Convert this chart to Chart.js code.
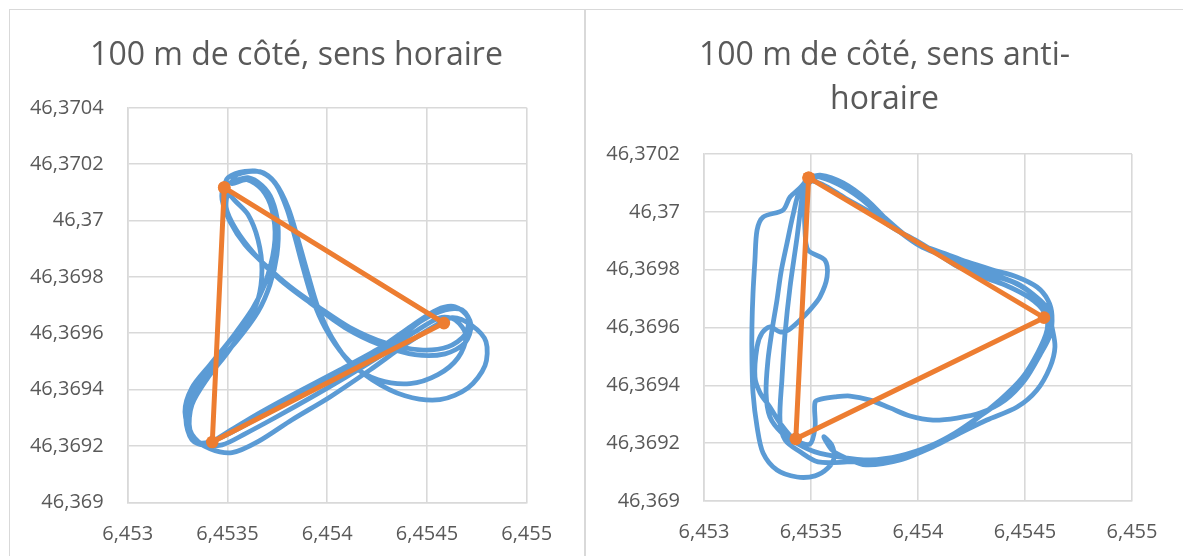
<!DOCTYPE html>
<html>
<head>
<meta charset="utf-8">
<script src="https://cdn.jsdelivr.net/npm/chart.js@4/dist/chart.umd.min.js"></script>
<style>
  body { margin: 0; background: #fff; width: 1183px; height: 556px; overflow: hidden; position: relative; }
  .frame { position: absolute; top: 9px; height: 560px; border: 1px solid #d9d9d9; border-bottom: none; box-sizing: border-box; }
  canvas { position: absolute; top: 9px; }
</style>
</head>
<body>
<div class="frame" style="left:9px; width:576px;"></div>
<div class="frame" style="left:585px; width:700px;"></div>
<canvas id="left" width="575" height="547" style="left:9px"></canvas>
<canvas id="right" width="597" height="547" style="left:586px"></canvas>
<script>
// axis ticks
const xTicks = [6.453, 6.4535, 6.454, 6.4545, 6.455];
const yTicksLeft = [46.369, 46.3692, 46.3694, 46.3696, 46.3698, 46.37, 46.3702, 46.3704];
const yTicksRight = [46.369, 46.3692, 46.3694, 46.3696, 46.3698, 46.37, 46.3702];

// planned triangle (orange)
const triLonLeft = [6.453484, 6.454585, 6.453424, 6.453484];
const triLatLeft = [46.370117, 46.369636, 46.369214, 46.370117];
const triLonRight = [6.453489, 6.453429, 6.454589, 6.453489];
const triLatRight = [46.370118, 46.369215, 46.369634, 46.370118];

// GPS track, clockwise (blue), 4 laps
const trackLonLeft = [
  6.453503, 6.453493, 6.453543, 6.453638, 6.453763, 6.453914, 6.454089, 6.454265, 6.454440, 6.454591,
  6.454691, 6.454721, 6.454676, 6.454591, 6.454465, 6.454290, 6.454089, 6.453864, 6.453638, 6.453473,
  6.453362, 6.453302, 6.453302, 6.453388, 6.453523, 6.453638, 6.453703, 6.453738, 6.453723, 6.453673,
  6.453598, 6.453523,
  6.453548, 6.453663, 6.453738, 6.453804, 6.453854, 6.453904, 6.453954, 6.454024, 6.454124, 6.454255,
  6.454415, 6.454555, 6.454656, 6.454696, 6.454641, 6.454565, 6.454440, 6.454290, 6.454114, 6.453924,
  6.453738, 6.453588, 6.453473, 6.453372, 6.453312, 6.453322, 6.453402, 6.453503, 6.453593, 6.453653,
  6.453673, 6.453653, 6.453603, 6.453533, 6.453488,
  6.453503, 6.453588, 6.453673, 6.453743, 6.453799, 6.453839, 6.453879, 6.453924, 6.453989, 6.454089,
  6.454225, 6.454390, 6.454565, 6.454706, 6.454791, 6.454796, 6.454726, 6.454626, 6.454525, 6.454390,
  6.454215, 6.454014, 6.453824, 6.453653, 6.453523, 6.453413, 6.453327, 6.453287, 6.453322, 6.453413,
  6.453523, 6.453623, 6.453693, 6.453743, 6.453748, 6.453713, 6.453653, 6.453563, 6.453483,
  6.453473, 6.453513, 6.453588, 6.453688, 6.453814, 6.453954, 6.454114, 6.454290, 6.454465, 6.454606,
  6.454691, 6.454706, 6.454641, 6.454550, 6.454425, 6.454265, 6.454064, 6.453854, 6.453653, 6.453503,
  6.453388, 6.453322, 6.453292, 6.453322, 6.453413, 6.453543, 6.453653, 6.453713, 6.453748, 6.453753,
  6.453723, 6.453673, 6.453603, 6.453523
];
const trackLatLeft = [
  46.370110, 46.370046, 46.369968, 46.369879, 46.369790, 46.369708, 46.369620, 46.369559, 46.369524, 46.369527,
  46.369566, 46.369630, 46.369683, 46.369683, 46.369641, 46.369541, 46.369463, 46.369378, 46.369293, 46.369232,
  46.369211, 46.369264, 46.369364, 46.369463, 46.369584, 46.369701, 46.369808, 46.369932, 46.370039, 46.370110,
  46.370145, 46.370131,
  46.370163, 46.370174, 46.370135, 46.370046, 46.369932, 46.369808, 46.369691, 46.369584, 46.369488, 46.369435,
  46.369421, 46.369453, 46.369513, 46.369591, 46.369648, 46.369655, 46.369605, 46.369531, 46.369453, 46.369374,
  46.369300, 46.369243, 46.369204, 46.369207, 46.369257, 46.369346, 46.369442, 46.369534, 46.369630, 46.369719,
  46.369826, 46.369932, 46.370021, 46.370074, 46.370117,
  46.370152, 46.370174, 46.370170, 46.370128, 46.370039, 46.369939, 46.369833, 46.369726, 46.369620, 46.369517,
  46.369435, 46.369378, 46.369364, 46.369406, 46.369485, 46.369570, 46.369627, 46.369655, 46.369620, 46.369559,
  46.369470, 46.369374, 46.369293, 46.369215, 46.369176, 46.369190, 46.369232, 46.369321, 46.369406, 46.369488,
  46.369584, 46.369683, 46.369783, 46.369897, 46.369996, 46.370074, 46.370135, 46.370145, 46.370120,
  46.370074, 46.369996, 46.369914, 46.369843, 46.369765, 46.369694, 46.369620, 46.369566, 46.369541, 46.369552,
  46.369595, 46.369655, 46.369694, 46.369683, 46.369627, 46.369548, 46.369470, 46.369392, 46.369314, 46.369250,
  46.369204, 46.369222, 46.369293, 46.369381, 46.369470, 46.369570, 46.369676, 46.369772, 46.369879, 46.369985,
  46.370074, 46.370124, 46.370152, 46.370138
];

// GPS track, anticlockwise (blue), 4 laps
const trackLonRight = [
  6.453486, 6.453453, 6.453402, 6.453369, 6.453276, 6.453248, 6.453238, 6.453229, 6.453224, 6.453224,
  6.453229, 6.453248, 6.453276, 6.453341, 6.453435, 6.453519, 6.453579, 6.453608, 6.453596, 6.453560,
  6.453600, 6.453660, 6.453757, 6.453916, 6.454070, 6.454196, 6.454322, 6.454463, 6.454556, 6.454617,
  6.454640, 6.454626, 6.454607, 6.454570, 6.454477, 6.454360, 6.454234, 6.454126, 6.454033, 6.453939,
  6.453846, 6.453752, 6.453650, 6.453551,
  6.453505, 6.453449, 6.453416, 6.453388, 6.453360, 6.453341, 6.453318, 6.453299, 6.453290, 6.453308,
  6.453364, 6.453439, 6.453519, 6.453636, 6.453776, 6.453916, 6.454056, 6.454173, 6.454290, 6.454407,
  6.454509, 6.454579, 6.454607, 6.454589, 6.454523, 6.454407, 6.454290, 6.454173, 6.454079, 6.453986,
  6.453883, 6.453776, 6.453659, 6.453551,
  6.453495, 6.453472, 6.453472, 6.453486, 6.453565, 6.453575, 6.453542, 6.453495, 6.453449, 6.453393,
  6.453355, 6.453308, 6.453271, 6.453248, 6.453238, 6.453262, 6.453308, 6.453355, 6.453425, 6.453495,
  6.453519, 6.453519, 6.453551, 6.453612, 6.453682, 6.453776, 6.453869, 6.453963, 6.454070, 6.454182,
  6.454290, 6.454407, 6.454500, 6.454570, 6.454617, 6.454626, 6.454607, 6.454556, 6.454463, 6.454350,
  6.454229, 6.454117, 6.454042, 6.453949, 6.453855, 6.453762, 6.453650, 6.453542, 6.453486,
  6.453477, 6.453463, 6.453435, 6.453402, 6.453379, 6.453364, 6.453355, 6.453379, 6.453449, 6.453533,
  6.453668, 6.453822, 6.453977, 6.454126, 6.454266, 6.454383, 6.454486, 6.454561, 6.454603, 6.454598,
  6.454547, 6.454453, 6.454336, 6.454220, 6.454117, 6.454009, 6.453916, 6.453822, 6.453729, 6.453626,
  6.453519, 6.453477
];
const trackLatRight = [
  46.370117, 46.370086, 46.370051, 46.370006, 46.369982, 46.369937, 46.369833, 46.369719, 46.369602, 46.369488,
  46.369374, 46.369256, 46.369166, 46.369107, 46.369083, 46.369087, 46.369114, 46.369150, 46.369195, 46.369222,
  46.369175, 46.369150, 46.369125, 46.369142, 46.369187, 46.369235, 46.369280, 46.369325, 46.369384, 46.369463,
  46.369533, 46.369602, 46.369661, 46.369695, 46.369747, 46.369782, 46.369816, 46.369844, 46.369875, 46.369920,
  46.369979, 46.370041, 46.370093, 46.370124,
  46.370110, 46.370076, 46.369989, 46.369892, 46.369792, 46.369695, 46.369591, 46.369488, 46.369374, 46.369291,
  46.369235, 46.369197, 46.369170, 46.369152, 46.369142, 46.369156, 46.369190, 46.369235, 46.369294, 46.369356,
  46.369436, 46.369522, 46.369591, 46.369654, 46.369702, 46.369747, 46.369778, 46.369816, 46.369861, 46.369903,
  46.369944, 46.369999, 46.370048, 46.370096,
  46.370103, 46.370041, 46.369937, 46.369868, 46.369833, 46.369775, 46.369706, 46.369661, 46.369626, 46.369591,
  46.369585, 46.369602, 46.369581, 46.369533, 46.369429, 46.369374, 46.369325, 46.369270, 46.369211, 46.369197,
  46.369256, 46.369342, 46.369353, 46.369360, 46.369363, 46.369349, 46.369322, 46.369294, 46.369280, 46.369287,
  46.369304, 46.369349, 46.369419, 46.369505, 46.369574, 46.369643, 46.369695, 46.369740, 46.369775, 46.369799,
  46.369827, 46.369858, 46.369878, 46.369913, 46.369972, 46.370041, 46.370100, 46.370127, 46.370117,
  46.370117, 46.370076, 46.369913, 46.369740, 46.369581, 46.369419, 46.369280, 46.369211, 46.369170, 46.369135,
  46.369135, 46.369142, 46.369159, 46.369211, 46.369280, 46.369349, 46.369425, 46.369515, 46.369591, 46.369643,
  46.369706, 46.369754, 46.369782, 46.369813, 46.369847, 46.369882, 46.369930, 46.369989, 46.370048, 46.370096,
  46.370124, 46.370117
];

const FONT = "'Open Sans', 'DejaVu Sans', sans-serif";
const GREY = '#595959';
const GRID = '#d9d9d9';

const fmt = v => String(+Number(v).toFixed(4)).replace('.', ',');
const pts = (xs, ys) => xs.map((x, i) => ({ x: x, y: ys[i] }));

// the title box only spans the padded width; stretch it so the text is centred on the canvas
const centreTitle = {
  id: 'centreTitle',
  afterLayout(chart) {
    const t = chart.titleBlock;
    if (t) { t.left = 0; t.right = chart.width; }
  }
};

function drawChart(id, o) {
  return new Chart(document.getElementById(id), {
    type: 'scatter',
    data: {
      datasets: [
        {
          data: pts(o.triLon, o.triLat), showLine: true, order: 0,
          borderColor: '#ed7d31', backgroundColor: '#ed7d31', borderWidth: 5,
          pointRadius: 6.3, pointBorderWidth: 0, pointBackgroundColor: '#ed7d31', tension: 0
        },
        {
          data: pts(o.lon, o.lat), showLine: true, order: 1,
          borderColor: '#5b9bd5', borderWidth: 4.8, pointRadius: 0, tension: 0.3
        }
      ]
    },
    plugins: [centreTitle],
    options: {
      responsive: false,
      animation: false,
      devicePixelRatio: 1,
      layout: { padding: { left: 0, right: o.padRight, top: 0, bottom: 0 } },
      plugins: {
        legend: { display: false },
        tooltip: { enabled: false },
        title: {
          display: true, text: o.title, color: GREY,
          font: { family: FONT, size: 32, weight: 'normal', lineHeight: 1.4 },
          padding: { top: 24, bottom: o.titleBottom }
        }
      },
      scales: {
        x: {
          type: 'linear', min: 6.453, max: 6.455,
          afterBuildTicks: s => { s.ticks = xTicks.map(v => ({ value: v })); },
          afterFit: s => { s.height = o.xH; },
          grid: { color: GRID, lineWidth: 1.6, drawTicks: false },
          border: { color: GRID, width: 1.6 },
          ticks: { color: GREY, font: { family: FONT, size: 20 }, padding: o.xPad, maxRotation: 0, autoSkip: false, callback: fmt }
        },
        y: {
          type: 'linear', min: 46.369, max: o.yMax,
          afterBuildTicks: s => { s.ticks = o.yTicks.map(v => ({ value: v })); },
          afterFit: s => { s.width = o.yW; },
          grid: { color: GRID, lineWidth: 1.6, drawTicks: false },
          border: { color: GRID, width: 1.6 },
          ticks: { color: GREY, font: { family: FONT, size: 20 }, padding: 24, autoSkip: false, callback: fmt }
        }
      }
    }
  });
}

drawChart('left', {
  title: '100 m de côté, sens horaire',
  titleBottom: 30, padRight: 57.3, yW: 118.7, xH: 53.7, xPad: 20,
  yMax: 46.3704, yTicks: yTicksLeft,
  triLon: triLonLeft, triLat: triLatLeft, lon: trackLonLeft, lat: trackLatLeft
});

drawChart('right', {
  title: ['100 m de côté, sens anti-', 'horaire'],
  titleBottom: 31.4, padRight: 51, yW: 118, xH: 55, xPad: 19.3,
  yMax: 46.3702, yTicks: yTicksRight,
  triLon: triLonRight, triLat: triLatRight, lon: trackLonRight, lat: trackLatRight
});
</script>
</body>
</html>
